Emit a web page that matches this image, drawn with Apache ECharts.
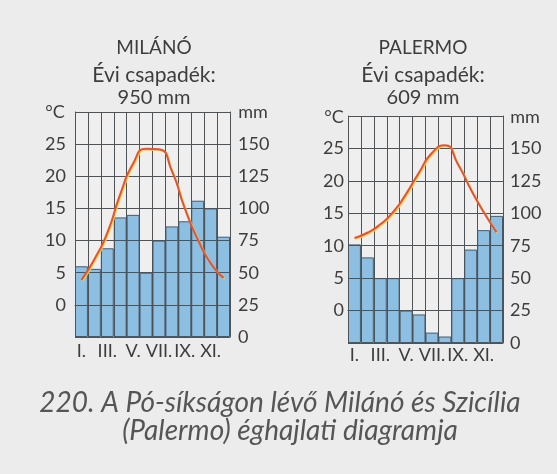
<!DOCTYPE html>
<html>
<head>
<meta charset="utf-8">
<script src="https://cdn.jsdelivr.net/npm/echarts@6/dist/echarts.min.js"></script>
<style>
html,body{margin:0;padding:0;background:#ececec;}
#c{width:557px;height:474px;}
</style>
</head>
<body>
<div id="c"></div>
<script>
var months = ['I.','II.','III.','IV.','V.','VI.','VII.','VIII.','IX.','X.','XI.','XII.'];
var milanPrecip = [55,53,69,93,95,50,75,86,90,106,100,78];
var milanTemp = [3.9,7.1,11.2,17.2,22.0,24.3,24.2,20.8,15.0,10.2,6.5,4.2];
var palermoPrecip = [76,66,50,50,25,22,8,5,50,72,87,98];
var palermoTemp = [11.2,12.0,13.3,15.2,18.0,21.3,24.3,25.5,22.6,18.7,15.2,12.1];
var tempMin = -5, tempMax = 30, tempStep = 5;
var mmMin = 0, mmMax = 175, mmStep = 25;
var milanTitle = ['MILÁNÓ','Évi csapadék:','950 mm'];
var palermoTitle = ['PALERMO','Évi csapadék:','609 mm'];
var caption = ['220. A Pó-síkságon lévő Milánó és Szicília','(Palermo) éghajlati diagramja'];

var FONT = 'Lato';
var TXT = '#3d3d3d';
var GRIDC = '#4e5358';

function xAx(gi, margin){
  return {
    type:'category', gridIndex:gi, data:months, boundaryGap:true, z:5,
    axisLine:{show:true, lineStyle:{color:GRIDC, width:1}},
    axisTick:{show:false},
    axisLabel:{interval:1, margin:margin, color:TXT, fontFamily:FONT, fontSize:18},
    splitLine:{show:true, interval:0, lineStyle:{color:GRIDC, width:1}}
  };
}
function yTemp(gi, margin){
  return {
    type:'value', gridIndex:gi, min:tempMin, max:tempMax, interval:tempStep, position:'left', z:5,
    axisLine:{show:true, lineStyle:{color:GRIDC, width:1}},
    axisTick:{show:false},
    axisLabel:{margin:margin, color:TXT, fontFamily:FONT, fontSize:18,
      formatter:function(v){return (v===tempMin||v===tempMax)?'':String(v);}},
    splitLine:{show:true, lineStyle:{color:GRIDC, width:1}}
  };
}
function yMm(gi, margin){
  return {
    type:'value', gridIndex:gi, min:mmMin, max:mmMax, interval:mmStep, position:'right', z:5,
    axisLine:{show:true, lineStyle:{color:GRIDC, width:1}},
    axisTick:{show:false},
    axisLabel:{margin:margin, color:TXT, fontFamily:FONT, fontSize:18, verticalAlign:'middle',
      formatter:function(v){return v===mmMax?'':String(v);}},
    splitLine:{show:false}
  };
}
function barS(xi, yi, data){
  return {type:'bar', xAxisIndex:xi, yAxisIndex:yi, data:data, barCategoryGap:'0%', z:2,
    itemStyle:{color:'#8dbfe3', borderColor:'#4a5866', borderWidth:1}, silent:true};
}
function lineS(xi, yi, data){
  return {type:'line', xAxisIndex:xi, yAxisIndex:yi, data:data, smooth:0.6, symbol:'none', z:10,
    lineStyle:{color:'#df553a', width:2, shadowColor:'rgba(245,205,60,0.9)', shadowOffsetY:1, shadowOffsetX:1, shadowBlur:0}, silent:true};
}
function titleBlock(lines, cx){
  var ys=[48,75,98];
  var sz=['19px ','21px ','20px '];
  return lines.map(function(t,i){
    return {type:'text', x:cx, y:ys[i], style:{text:t, fill:TXT, font:sz[i]+FONT, textAlign:'center', textVerticalAlign:'middle'}};
  });
}
var graphics = [].concat(
  titleBlock(milanTitle,154),
  titleBlock(palermoTitle,423),
  [
    {type:'text', x:55, y:112, style:{text:'°C', fill:TXT, font:'18px '+FONT, textAlign:'center', textVerticalAlign:'middle'}},
    {type:'text', x:253, y:112, style:{text:'mm', fill:TXT, font:'18px '+FONT, textAlign:'center', textVerticalAlign:'middle'}},
    {type:'text', x:334, y:117, style:{text:'°C', fill:TXT, font:'18px '+FONT, textAlign:'center', textVerticalAlign:'middle'}},
    {type:'text', x:525, y:117, style:{text:'mm', fill:TXT, font:'18px '+FONT, textAlign:'center', textVerticalAlign:'middle'}},
    {type:'text', x:280, y:403, style:{text:caption[0], fill:'#555', font:'italic 28px '+FONT, textAlign:'center', textVerticalAlign:'middle'}},
    {type:'text', x:290, y:431, style:{text:caption[1], fill:'#555', font:'italic 28px '+FONT, textAlign:'center', textVerticalAlign:'middle'}}
  ]
);

var chart = echarts.init(document.getElementById('c'), null, {renderer:'canvas'});
chart.setOption({
  backgroundColor:'#ececec',
  animation:false,
  grid:[
    {left:75, top:112, width:155, height:225, backgroundColor:'#efefef', show:true, borderWidth:0},
    {left:348, top:116, width:155, height:227, backgroundColor:'#efefef', show:true, borderWidth:0}
  ],
  xAxis:[xAx(0,5), xAx(1,3)],
  yAxis:[yTemp(0,9), yMm(0,8), yTemp(1,4), yMm(1,7)],
  series:[
    barS(0,1,milanPrecip), lineS(0,0,milanTemp),
    barS(1,3,palermoPrecip), lineS(1,2,palermoTemp)
  ],
  graphic:graphics
});
</script>
</body>
</html>
